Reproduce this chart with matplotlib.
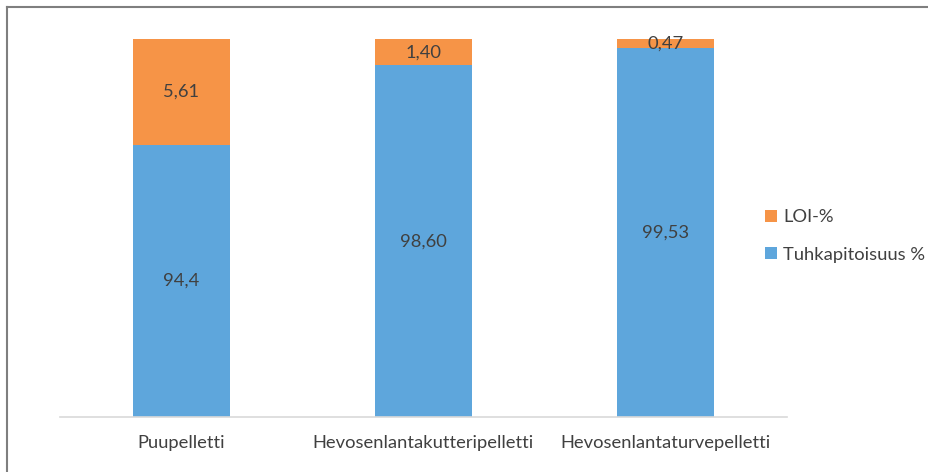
import matplotlib
matplotlib.use("Agg")
import matplotlib.pyplot as plt
from matplotlib.lines import Line2D
from matplotlib.patches import Patch

categories = ["Puupelletti", "Hevosenlantakutteripelletti", "Hevosenlantaturvepelletti"]
tuhka = [94.4, 98.60, 99.53]
loi = [5.61, 1.40, 0.47]
tuhka_labels = ["94,4", "98,60", "99,53"]
loi_labels = ["5,61", "1,40", "0,47"]
series_names = ["Tuhkapitoisuus %", "LOI-%"]

BLUE = "#5EA6DC"
ORANGE = "#F69447"
TXT = "#404040"

plt.rcParams['font.family'] = ['Lato', 'DejaVu Sans']
FS = 13.2

fig = plt.figure(figsize=(9.29, 4.72), dpi=100)
ax = fig.add_axes([60/929, 1-417/472, (787-60)/929, (417-39)/472])

x = list(range(len(categories)))
ymin, ymax = 80, 100
ax.bar(x, tuhka, width=0.4, color=BLUE, bottom=0)
ax.bar(x, loi, width=0.4, color=ORANGE, bottom=tuhka)
ax.set_ylim(ymin, ymax)
ax.set_xlim(-0.5, len(categories)-0.5)

for i in x:
    lo = max(ymin, 0)
    ax.text(i, (lo + tuhka[i]) / 2, tuhka_labels[i], ha='center', va='center',
            fontsize=FS, color=TXT)
    top = min(ymax, tuhka[i] + loi[i])
    ax.text(i, (tuhka[i] + top) / 2, loi_labels[i], ha='center', va='center',
            fontsize=FS, color=TXT)

ax.set_xticks(x)
ax.set_xticklabels(categories, fontsize=FS, color=TXT)
ax.tick_params(axis='x', length=0, pad=13)
ax.set_yticks([])
for s in ['left', 'right', 'top']:
    ax.spines[s].set_visible(False)
ax.spines['bottom'].set_color('#D9D9D9')
ax.spines['bottom'].set_linewidth(1.2)

handles = [Patch(facecolor=ORANGE, edgecolor='none'), Patch(facecolor=BLUE, edgecolor='none')]
fig.legend(handles, [series_names[1], series_names[0]], loc='center left',
           bbox_to_anchor=(749/929, 1-236/472), frameon=False, fontsize=FS,
           handlelength=0.65, handleheight=0.65, handletextpad=0.3,
           labelspacing=1.15, labelcolor=TXT)

# outer frame (top and left edges visible)
fig.add_artist(Line2D([7/929, 1.0], [1-7/472, 1-7/472], transform=fig.transFigure,
                      color='#7F7F7F', linewidth=1.5))
fig.add_artist(Line2D([7/929, 7/929], [0.0, 1-7/472], transform=fig.transFigure,
                      color='#7F7F7F', linewidth=1.5))

fig.savefig("out.png", dpi=100)
